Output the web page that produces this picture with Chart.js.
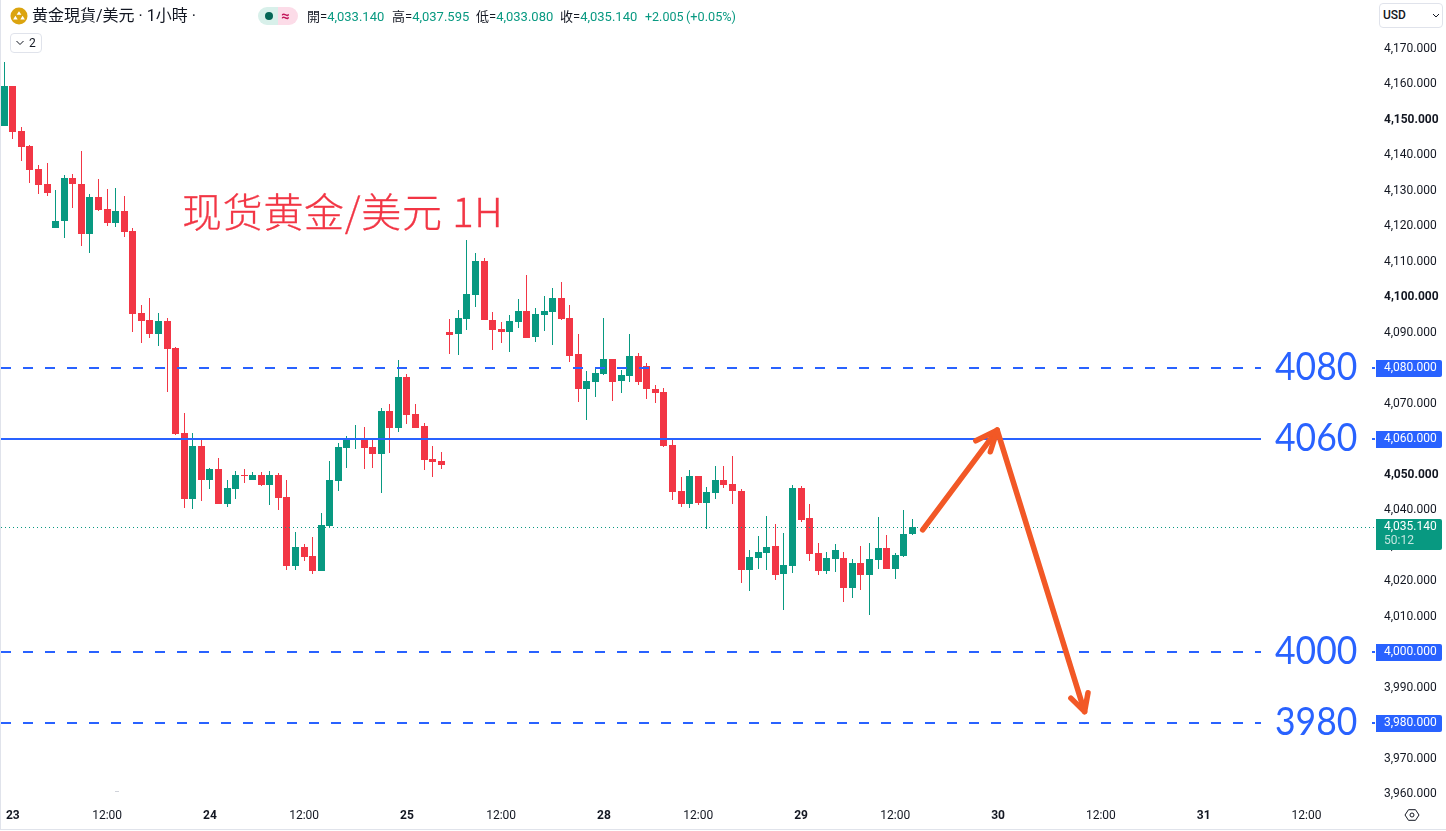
<!DOCTYPE html>
<html>
<head>
<meta charset="utf-8">
<script src="https://cdn.jsdelivr.net/npm/chart.js@4"></script>
<style>
  html, body { margin: 0; background: #fff; overflow: hidden; }
  #wrap { position: relative; width: 1446px; height: 831px; font-family: Roboto, "Noto Sans CJK TC", sans-serif; color: #131722; }
  #wrap canvas { position: absolute; left: 0; top: 0; }
  .abs { position: absolute; white-space: nowrap; }
  .ohlc { top: 9px; font-size: 13px; line-height: 16px; color: #089981; }
  .ohlc b { font-weight: 400; color: #131722; }
  .btn { border: 1px solid #e0e3eb; border-radius: 4px; box-sizing: border-box; background: #fff; }
</style>
</head>
<body>
<div id="wrap">
  <canvas id="chart" width="1446" height="831"></canvas>

  <div class="abs" style="left:0;top:0;width:1px;height:830px;background:#e0e3eb"></div>
  <div class="abs" style="left:0;top:829px;width:1446px;height:1px;background:#e0e3eb"></div>
  <div class="abs" style="left:115px;top:791px;width:4px;height:1px;background:#d0d3da"></div>

  <svg class="abs" style="left:10px;top:7px" width="18" height="18" viewBox="0 0 18 18">
    <circle cx="9" cy="9" r="8.5" fill="#dba40f"/>
    <path d="M9 4.200l2.400 3.600H6.600zM5.400 8.800l2.300 3.600H3.100zM12.600 8.800l2.300 3.600h-4.600z" fill="#fff"/>
  </svg>
  <div class="abs" style="left:32px;top:7px;font-size:16px;line-height:18px">黄金現貨/美元 · 1小時 ·</div>

  <div class="abs" style="left:258px;top:7px;width:20px;height:18px;background:#d8f0ea;border-radius:9px 0 0 9px"></div>
  <div class="abs" style="left:278px;top:7px;width:20px;height:18px;background:#fcdce8;border-radius:0 9px 9px 0"></div>
  <div class="abs" style="left:265px;top:12px;width:8px;height:8px;border-radius:50%;background:#056656"></div>
  <div class="abs" style="left:281px;top:7px;font-size:15px;line-height:18px;font-weight:700;color:#c2185b">≈</div>

  <div class="abs ohlc" style="left:307px"><b>開=</b>4,033.140</div>
  <div class="abs ohlc" style="left:392px"><b>高=</b>4,037.595</div>
  <div class="abs ohlc" style="left:476px"><b>低=</b>4,033.080</div>
  <div class="abs ohlc" style="left:560px"><b>收=</b>4,035.140</div>
  <div class="abs ohlc" style="left:645px;font-size:12.500px">+2.005</div>
  <div class="abs ohlc" style="left:686px;font-size:12.700px">(+0.05%)</div>

  <div class="abs btn" style="left:10px;top:33px;width:32px;height:20px"></div>
  <svg class="abs" style="left:15px;top:39px" width="10" height="8" viewBox="0 0 10 8">
    <path d="M1.500 2l3.500 3.500L8.500 2" fill="none" stroke="#131722" stroke-width="1"/>
  </svg>
  <div class="abs" style="left:29px;top:34px;font-size:12px;line-height:18px">2</div>

  <div class="abs btn" style="left:1379px;top:3px;width:64px;height:25px"></div>
  <div class="abs" style="left:1383px;top:7px;font-size:12px;line-height:16px;font-weight:500">USD</div>
  <svg class="abs" style="left:1431px;top:12px" width="10" height="8" viewBox="0 0 10 8">
    <path d="M2 2l3 3l3-3" fill="none" stroke="#131722" stroke-width="1"/>
  </svg>

  <svg class="abs" style="left:1404px;top:809px" width="16" height="12" viewBox="0 0 16 12">
    <path d="M4.500 .7h7L15 6l-3.500 5.300h-7L1 6z" fill="none" stroke="#131722" stroke-width="1"/>
    <circle cx="8" cy="6" r="2" fill="none" stroke="#131722" stroke-width="1"/>
  </svg>

  <div class="abs" style="left:182px;top:185px;font-family:'Noto Sans CJK SC';font-size:40px;line-height:50px;font-weight:300;letter-spacing:.7px;-webkit-text-stroke:.3px #f23645;color:#f23645">现货黄金/美元 1H</div>
</div>

<script>
// hourly candles, oldest first
const opens = [
  4148.2, 4159.4, 4146.8, 4142.5, 4136.1, 4131.8, 4119.4, 4121.4, 4133.5, 4131.8,
  4117.8, 4128.2, 4124.8, 4120.9, 4124.2, 4118.6, 4095.5, 4093.5, 4089.6, 4093.2,
  4085.6, 4061.7, 4043.1, 4058.0, 4048.5, 4051.5, 4041.7, 4045.9, 4049.9, 4048.5,
  4049.9, 4047.0, 4049.9, 4043.7, 4024.2, 4029.6, 4027.0, 4022.8, 4035.5, 4048.2,
  4057.5, 4060.0, 4060.3, 4057.7, 4055.8, 4067.9, 4063.1, 4077.5, 4067.0, 4063.7,
  4054.4, 4053.8, 4090.1, 4089.6, 4093.8, 4100.6, 4110.1, 4093.5, 4091.0, 4090.1,
  4093.0, 4096.1, 4088.7, 4094.9, 4095.8, 4099.7, 4094.1, 4083.9, 4074.1, 4076.1,
  4078.3, 4082.5, 4076.3, 4077.7, 4083.4, 4080.6, 4074.1, 4073.2, 4058.3, 4045.4,
  4041.7, 4049.6, 4042.0, 4044.8, 4048.5, 4047.3, 4045.4, 4023.1, 4026.5, 4027.9,
  4029.9, 4022.0, 4024.2, 4046.2, 4037.7, 4027.9, 4022.8, 4026.2, 4026.5, 4018.0,
  4025.1, 4021.7, 4025.9, 4029.3, 4023.4, 4027.0, 4033.14
];
const highs = [
  4166.2, 4159.4, 4147.9, 4142.8, 4137.2, 4137.8, 4130.1, 4134.4, 4134.6, 4141.1,
  4129.0, 4133.2, 4130.4, 4130.7, 4128.5, 4119.4, 4097.7, 4099.7, 4095.5, 4094.1,
  4085.9, 4067.3, 4061.7, 4059.7, 4051.8, 4054.6, 4048.5, 4051.0, 4051.5, 4050.7,
  4050.7, 4051.0, 4050.4, 4048.5, 4033.8, 4030.4, 4032.4, 4039.2, 4053.8, 4058.9,
  4060.8, 4063.9, 4063.4, 4060.3, 4068.7, 4069.9, 4082.3, 4078.3, 4069.9, 4064.5,
  4058.0, 4056.3, 4093.8, 4096.3, 4116.1, 4112.4, 4111.0, 4095.8, 4093.0, 4094.9,
  4099.4, 4106.2, 4096.9, 4100.3, 4102.5, 4104.2, 4097.7, 4089.6, 4079.2, 4080.3,
  4094.1, 4082.5, 4079.4, 4089.6, 4084.2, 4081.4, 4075.2, 4074.4, 4060.3, 4049.3,
  4051.3, 4049.6, 4046.5, 4052.4, 4052.4, 4055.2, 4045.9, 4028.7, 4032.7, 4038.3,
  4036.1, 4033.5, 4047.0, 4046.8, 4041.7, 4030.7, 4028.2, 4030.4, 4028.2, 4026.2,
  4029.9, 4030.7, 4038.0, 4033.0, 4027.9, 4040.0, 4037.595
];
const lows = [
  4148.2, 4144.5, 4138.3, 4132.1, 4129.0, 4128.5, 4119.4, 4116.6, 4125.1, 4114.4,
  4112.4, 4124.2, 4120.0, 4119.7, 4116.9, 4090.1, 4087.0, 4088.5, 4086.2, 4073.2,
  4061.1, 4040.6, 4040.3, 4042.5, 4045.9, 4041.7, 4040.8, 4043.1, 4047.6, 4048.5,
  4046.8, 4041.4, 4040.0, 4023.1, 4023.1, 4025.6, 4022.0, 4022.8, 4034.9, 4045.3,
  4051.8, 4057.2, 4051.5, 4051.8, 4044.8, 4056.1, 4062.0, 4064.2, 4063.1, 4051.3,
  4049.3, 4051.5, 4083.9, 4083.7, 4090.7, 4097.2, 4093.5, 4085.1, 4087.0, 4084.5,
  4091.3, 4088.5, 4087.3, 4090.4, 4086.5, 4093.5, 4081.7, 4070.4, 4065.4, 4071.8,
  4078.0, 4070.7, 4073.0, 4076.1, 4075.2, 4071.3, 4070.1, 4057.7, 4042.8, 4040.8,
  4040.6, 4041.4, 4034.6, 4043.1, 4046.2, 4041.7, 4019.4, 4017.2, 4023.4, 4023.1,
  4020.3, 4011.8, 4022.3, 4036.6, 4025.6, 4021.7, 4022.0, 4022.5, 4014.1, 4015.2,
  4017.5, 4010.4, 4023.4, 4023.4, 4020.6, 4026.8, 4033.08
];
const closes = [
  4159.4, 4146.5, 4142.3, 4135.8, 4131.6, 4129.3, 4121.4, 4133.5, 4131.8, 4117.8,
  4128.2, 4124.5, 4120.9, 4124.2, 4118.3, 4095.2, 4093.2, 4089.6, 4093.2, 4085.4,
  4061.4, 4043.1, 4058.0, 4048.5, 4051.5, 4041.7, 4046.2, 4049.9, 4049.7, 4049.9,
  4047.0, 4049.9, 4043.4, 4024.2, 4029.6, 4026.8, 4022.8, 4035.8, 4048.5, 4057.7,
  4060.0, 4060.3, 4057.5, 4055.8, 4067.9, 4063.1, 4077.5, 4066.8, 4063.1, 4054.1,
  4053.5, 4052.7, 4089.3, 4094.1, 4100.8, 4110.1, 4093.5, 4090.7, 4090.1, 4093.2,
  4096.1, 4088.5, 4095.2, 4096.1, 4099.7, 4093.8, 4083.4, 4074.1, 4076.3, 4078.6,
  4082.5, 4076.1, 4078.0, 4083.4, 4076.1, 4074.1, 4073.0, 4058.0, 4045.1, 4041.7,
  4049.6, 4042.0, 4045.1, 4048.5, 4047.0, 4045.4, 4023.1, 4026.8, 4028.2, 4029.6,
  4021.7, 4024.5, 4046.2, 4037.2, 4027.6, 4022.8, 4026.5, 4028.7, 4018.0, 4025.1,
  4021.7, 4026.2, 4029.3, 4023.4, 4027.3, 4033.2, 4035.14
];

// bar index -> time axis label
const timeTickIndex = [1, 12, 24, 35, 47, 58, 70, 81, 93, 104, 116, 128, 140, 152];
const timeTickLabels = ['23', '12:00', '24', '12:00', '25', '12:00', '28', '12:00', '29', '12:00', '30', '12:00', '31', '12:00'];

const priceTicks = [
  3960, 3970, 3980, 3990, 4000, 4010, 4020, 4030, 4040, 4050, 4060, 4070,
  4080, 4090, 4100, 4110, 4120, 4130, 4140, 4150, 4160, 4170
];

const levels = [4080, 4060, 4000, 3980];
const levelDashed = [true, false, true, true];

const lastPrice = 4035.14;
const countdown = '50:12';

// hand drawn arrows, [bar index, price]
const arrowUp = [[107.2, 4034.4], [115.9, 4062.5]];
const arrowUpHead = [[113.4, 4059.5], [115.9, 4062.5], [115.1, 4056.4]];
const arrowDown = [[115.9, 4062.5], [126.1, 3983.2]];
const arrowDownHead = [[124.5, 3987.0], [126.1, 3983.2], [126.5, 3988.5]];

const UP = '#089981';
const DOWN = '#f23645';
const BLUE = '#2962ff';
const ORANGE = '#f25826';
const AXIS_FONT = 'Roboto';

const barColors = opens.map((o, i) => (closes[i] >= o ? UP : DOWN));
const fmt = v => v.toLocaleString('en-US', { minimumFractionDigits: 3, maximumFractionDigits: 3 });

// the plot runs edge to edge, tick labels must not push it in
const noPadding = s => {
  s.paddingLeft = s.paddingRight = s.paddingTop = s.paddingBottom = 0;
};

// keep wicks and bodies on whole pixels so they stay crisp
const snapBars = {
  id: 'snapBars',
  afterDatasetsUpdate(chart) {
    chart.data.datasets.forEach((ds, i) => {
      chart.getDatasetMeta(i).data.forEach(el => {
        el.x = Math.floor(el.x) + 0.5;
        el.y = Math.round(el.y);
        el.base = Math.round(el.base);
        if (el.base === el.y) el.base += 1;
      });
    });
  }
};

const overlays = {
  id: 'overlays',
  afterDatasetsDraw(chart) {
    const { ctx, chartArea: a, scales: { x, y } } = chart;
    ctx.save();

    // last price
    const py = Math.floor(y.getPixelForValue(lastPrice)) + 0.5;
    ctx.strokeStyle = UP;
    ctx.lineWidth = 1;
    ctx.setLineDash([1, 3]);
    ctx.beginPath();
    ctx.moveTo(1, py);
    ctx.lineTo(a.right, py);
    ctx.stroke();

    // horizontal levels
    levels.forEach((lv, i) => {
      const ly = Math.round(y.getPixelForValue(lv));
      ctx.strokeStyle = BLUE;
      ctx.lineWidth = 2;
      ctx.setLineDash(levelDashed[i] ? [10, 12] : []);
      ctx.beginPath();
      ctx.moveTo(1, ly);
      ctx.lineTo(a.right, ly);
      ctx.stroke();

      ctx.fillStyle = '#fff';
      ctx.fillRect(1261, ly - 24, 111, 48);
      ctx.fillStyle = BLUE;
      ctx.font = '39px Lato';
      ctx.textAlign = 'left';
      ctx.textBaseline = 'middle';
      ctx.save();
      ctx.translate(1275, ly - 1);
      ctx.scale(0.91, 1);
      ctx.fillText(String(lv), 0, 0);
      ctx.restore();
    });

    // arrows
    const path = pts => {
      ctx.beginPath();
      pts.forEach((p, i) => {
        const px = x.getPixelForValue(p[0]);
        const pyy = y.getPixelForValue(p[1]);
        if (i === 0) ctx.moveTo(px, pyy); else ctx.lineTo(px, pyy);
      });
      ctx.stroke();
    };
    ctx.setLineDash([]);
    ctx.strokeStyle = ORANGE;
    ctx.lineWidth = 5.5;
    ctx.lineCap = 'round';
    ctx.lineJoin = 'round';
    [arrowUp, arrowUpHead, arrowDown, arrowDownHead].forEach(path);
    ctx.restore();
  },
  afterDraw(chart) {
    const { ctx, chartArea: a, scales: { y } } = chart;
    ctx.save();
    ctx.textAlign = 'left';
    ctx.textBaseline = 'middle';
    ctx.font = '12px ' + AXIS_FONT;

    // price tags sit on top of the axis labels
    levels.forEach(lv => {
      const ly = Math.round(y.getPixelForValue(lv));
      ctx.fillStyle = BLUE;
      ctx.beginPath();
      ctx.roundRect(a.right + 1, ly - 8, 66, 17, [0, 2, 2, 0]);
      ctx.fill();
      ctx.fillStyle = '#fff';
      ctx.fillText(fmt(lv), 1384, ly);
    });

    const py = Math.round(y.getPixelForValue(lastPrice));
    ctx.fillStyle = UP;
    ctx.beginPath();
    ctx.roundRect(a.right + 1, py - 8, 66, 31, [0, 2, 2, 0]);
    ctx.fill();
    ctx.fillStyle = '#fff';
    ctx.fillText(fmt(lastPrice), 1384, py);
    ctx.fillStyle = 'rgba(255,255,255,0.75)';
    ctx.fillText(countdown, 1384, py + 14);
    ctx.restore();
  }
};

new Chart(document.getElementById('chart'), {
  type: 'bar',
  data: {
    datasets: [
      {
        label: 'wick',
        data: lows.map((l, i) => ({ x: i, y: [l, highs[i]] })),
        backgroundColor: barColors,
        barThickness: 1,
        grouped: false,
        inflateAmount: 0,
        borderWidth: 0,
        order: 2
      },
      {
        label: 'body',
        data: opens.map((o, i) => ({ x: i, y: [o, closes[i]] })),
        backgroundColor: barColors,
        barThickness: 7,
        grouped: false,
        inflateAmount: 0,
        borderWidth: 0,
        order: 1
      }
    ]
  },
  options: {
    responsive: false,
    animation: false,
    layout: { padding: 0 },
    plugins: { legend: { display: false }, tooltip: { enabled: false }, title: { display: false } },
    scales: {
      x: {
        type: 'linear',
        offset: false,
        min: -0.5,
        max: 160,
        grid: { display: false, drawTicks: false },
        border: { display: false },
        afterBuildTicks: s => { s.ticks = timeTickIndex.map(v => ({ value: v })); },
        afterFit: s => { s.height = 31; noPadding(s); },
        ticks: {
          autoSkip: false,
          maxRotation: 0,
          padding: 9,
          color: '#131722',
          font: c => ({ family: AXIS_FONT, size: 12, weight: c.index % 2 === 0 ? 'bold' : 'normal' }),
          callback: v => timeTickLabels[timeTickIndex.indexOf(v)]
        }
      },
      y: {
        position: 'right',
        min: 3958.31,
        max: 4183.662,
        grid: { display: false, drawTicks: false },
        border: { display: false },
        afterBuildTicks: s => { s.ticks = priceTicks.map(v => ({ value: v })); },
        afterFit: s => { s.width = 71; noPadding(s); },
        ticks: {
          autoSkip: false,
          crossAlign: 'near',
          padding: 9,
          color: '#131722',
          font: c => ({ family: AXIS_FONT, size: 12, weight: c.tick && c.tick.value % 50 === 0 ? 'bold' : 'normal' }),
          callback: v => fmt(v)
        }
      }
    }
  },
  plugins: [snapBars, overlays]
});
</script>
</body>
</html>
